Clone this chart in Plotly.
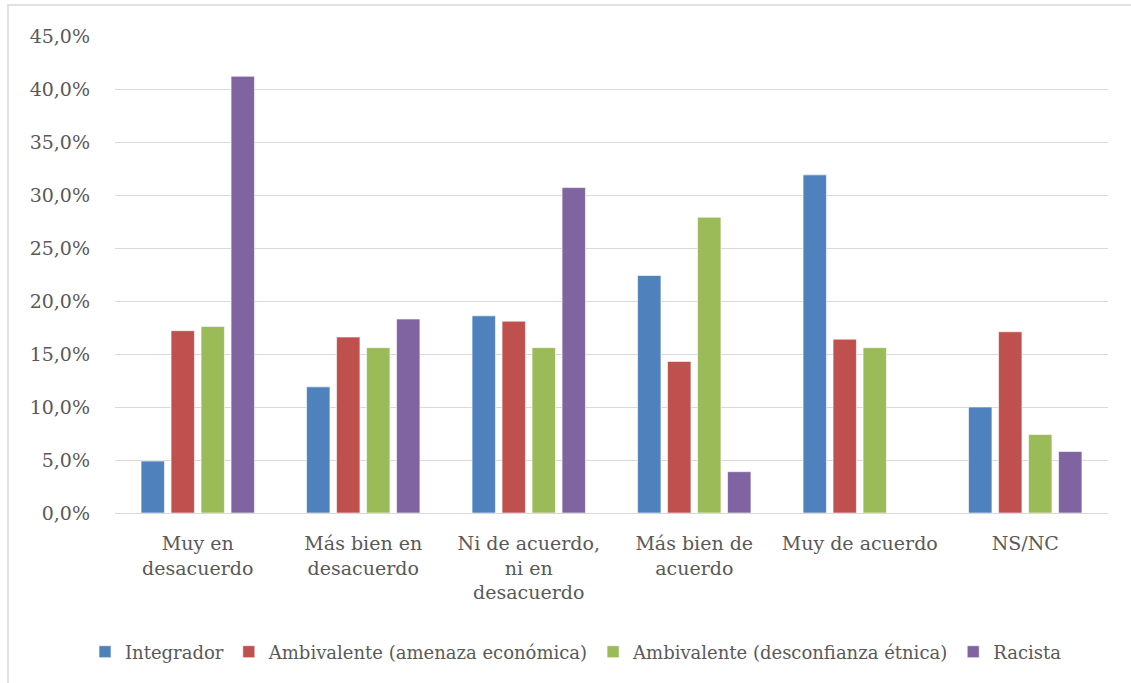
import plotly.graph_objects as go

categories = ["Muy en<br>desacuerdo", "Más bien en<br>desacuerdo", "Ni de acuerdo,<br>ni en<br>desacuerdo",
              "Más bien de<br>acuerdo", "Muy de acuerdo", "NS/NC"]
integrador = [4.9, 11.9, 18.6, 22.4, 31.9, 10.0]
amb_economica = [17.2, 16.6, 18.1, 14.3, 16.4, 17.1]
amb_etnica = [17.6, 15.6, 15.6, 27.9, 15.6, 7.4]
racista = [41.2, 18.3, 30.7, 3.9, 0.0, 5.8]

series = [
    ("Integrador", integrador, "#4F81BD"),
    ("Ambivalente (amenaza económica)", amb_economica, "#C0504D"),
    ("Ambivalente (desconfianza étnica)", amb_etnica, "#9BBB59"),
    ("Racista", racista, "#8064A2"),
]

tickvals = [0, 5, 10, 15, 20, 25, 30, 35, 40, 45]
ticktext = ["0,0%", "5,0%", "10,0%", "15,0%", "20,0%", "25,0%", "30,0%", "35,0%", "40,0%", "45,0%"]

font_family = "DejaVu Serif"
text_color = "#595959"

fig = go.Figure()
for name, vals, color in series:
    fig.add_trace(go.Bar(
        x=categories, y=vals, name=name,
        marker=dict(color=color, line=dict(color="rgba(255,255,255,0.6)", width=1)),
    ))

W, H = 1131, 683
L, R, T, B = 115, 23, 36, 170
pw, ph = W - L - R, H - T - B

def px_x(p):
    return (p - L) / pw

def px_y(p):
    return (H - B - p) / ph

fig.update_layout(
    width=W, height=H,
    margin=dict(l=L, r=R, t=T, b=B, autoexpand=False),
    paper_bgcolor="white", plot_bgcolor="white",
    barmode="group", bargap=0.275, bargroupgap=0.22,
    font=dict(family=font_family, size=19, color=text_color),
    showlegend=True,
    legend=dict(orientation="h", x=px_x(576), xanchor="center", y=px_y(652), yanchor="middle",
                font=dict(size=18, color=text_color), itemwidth=30, tracegroupgap=0,
                itemclick=False),
    xaxis=dict(showgrid=False, showline=True, linecolor="#D9D9D9", linewidth=1,
               ticks="", tickfont=dict(size=19, color=text_color), ticklabelstandoff=13,
               automargin=False),
    yaxis=dict(range=[0, 45], tickvals=tickvals, ticktext=ticktext, showgrid=True,
               gridcolor="#D9D9D9", gridwidth=1, zeroline=False, showline=False,
               tickfont=dict(size=19, color=text_color), ticklabelstandoff=24,
               automargin=False),
    shapes=[dict(type="rect", xref="paper", yref="paper",
                 x0=px_x(8), x1=px_x(1200), y0=px_y(720), y1=px_y(5),
                 line=dict(color="#D9D9D9", width=1.5), fillcolor="rgba(0,0,0,0)", layer="below")],
)

fig.write_html("out.html", config={"displayModeBar": False},
               post_script="document.body.style.margin='0px';")
